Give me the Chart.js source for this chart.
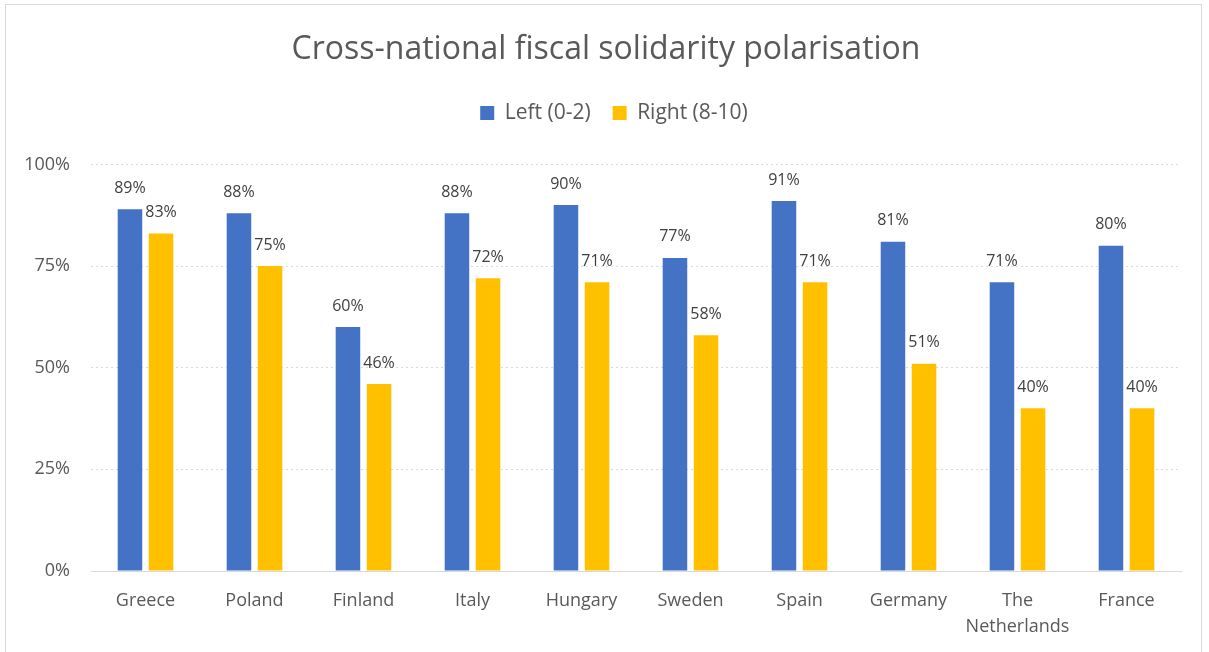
<!DOCTYPE html>
<html>
<head>
<meta charset="utf-8">
<script src="https://cdn.jsdelivr.net/npm/chart.js@4.4.0/dist/chart.umd.min.js"></script>
<style>
  html, body { margin: 0; padding: 0; background: #fff; }
  #wrap { position: relative; width: 1209px; height: 652px; overflow: hidden; }
  #frame { position: absolute; left: 5px; top: 4px; width: 1197px; height: 700px; border: 1px solid #d9d9d9; box-sizing: border-box; pointer-events: none; }
  canvas { position: absolute; left: 0; top: 0; }
</style>
</head>
<body>
<div id="wrap">
  <canvas id="chart" width="1209" height="652"></canvas>
  <div id="frame"></div>
</div>
<script>
const countries = ['Greece', 'Poland', 'Finland', 'Italy', 'Hungary', 'Sweden', 'Spain', 'Germany', ['The', 'Netherlands'], 'France'];
const leftVals  = [89, 88, 60, 88, 90, 77, 91, 81, 71, 80];
const rightVals = [83, 75, 46, 72, 71, 58, 71, 51, 40, 40];
const yTicks = [0, 25, 50, 75, 100];

const FONT = "'Open Sans', sans-serif";

/* value labels above each bar */
const barLabels = {
  id: 'barLabels',
  afterDatasetsDraw(chart) {
    const { ctx } = chart;
    ctx.save();
    ctx.font = '16px ' + FONT;
    ctx.fillStyle = '#404040';
    ctx.textAlign = 'center';
    ctx.textBaseline = 'middle';
    chart.data.datasets.forEach((ds, i) => {
      chart.getDatasetMeta(i).data.forEach((bar, j) => {
        ctx.fillText(ds.data[j] + '%', bar.x, bar.y - 21);
      });
    });
    ctx.restore();
  }
};

// extra room under the legend, and title/legend centred on the whole frame
const headerLayout = {
  id: 'headerLayout',
  beforeLayout(chart) {
    const lg = chart.legend;
    if (lg && !lg._gapWrapped) {
      const fit = lg.fit;
      lg.fit = function () { fit.call(this); this.height += 31; };
      lg._gapWrapped = true;
    }
  },
  afterLayout(chart) {
    const shift = (box, left) => {
      if (!box) return;
      box.left = left;
      box.width = box.right - left;
    };
    shift(chart.titleBlock, 31);
    shift(chart.legend, 47);
  }
};

new Chart(document.getElementById('chart'), {
  type: 'bar',
  data: {
    labels: countries,
    datasets: [
      { label: 'Left (0-2)', data: leftVals, backgroundColor: '#4472C4' },
      { label: 'Right (8-10)', data: rightVals, backgroundColor: '#FFC000' }
    ]
  },
  options: {
    responsive: false,
    animation: false,
    layout: { padding: { left: 0, right: 28, top: 0, bottom: 0 } },
    categoryPercentage: 0.57,
    barPercentage: 0.79,
    plugins: {
      title: {
        display: true,
        text: 'Cross-national fiscal solidarity polarisation',
        color: '#595959',
        font: { family: FONT, size: 32, weight: 'normal', lineHeight: 1.2 },
        padding: { top: 31, bottom: 11 }
      },
      legend: {
        labels: {
          color: '#595959',
          font: { family: FONT, size: 21 },
          boxWidth: 14,
          boxHeight: 14,
          padding: 22
        }
      },
      tooltip: { enabled: false }
    },
    scales: {
      x: {
        grid: { display: false, drawTicks: false },
        border: { display: true, color: '#d9d9d9', width: 1 },
        ticks: { color: '#595959', font: { family: FONT, size: 18, lineHeight: 1.45 }, padding: 17, maxRotation: 0 },
        afterFit(scale) { scale.height = 81; }
      },
      y: {
        min: 0, max: 100,
        afterBuildTicks(scale) { scale.ticks = yTicks.map(v => ({ value: v })); },
        grid: { color: '#d9d9d9', drawTicks: false },
        border: { display: false, dash: [2, 3] },
        ticks: { color: '#595959', font: { family: FONT, size: 18 }, padding: 21, callback: v => v + '%' },
        afterFit(scale) { scale.width = 91; }
      }
    }
  },
  plugins: [barLabels, headerLayout]
});
</script>
</body>
</html>
